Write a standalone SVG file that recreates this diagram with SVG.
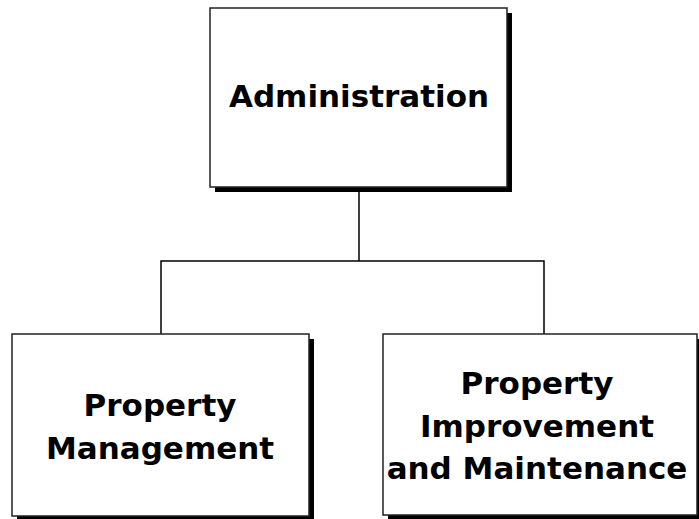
<svg xmlns="http://www.w3.org/2000/svg" width="699" height="519" viewBox="0 0 699 519">
<style>
.box{fill:#fff;stroke:#222;stroke-width:1.5}
.sh{fill:#000}
.t{font-family:"DejaVu Sans",Verdana,sans-serif;font-weight:bold;font-size:31px;fill:#000;text-anchor:middle}
.c{fill:none;stroke:#000;stroke-width:1.5}
</style>
<rect width="699" height="519" fill="#fff"/>
<g id="connectors">
<path class="c" d="M359 187V261M161 334V261H544V334"/>
</g>
<g id="admin">
<rect class="sh" x="215" y="13" width="297" height="179"/>
<rect class="box" x="210" y="8" width="297" height="179"/>
<text class="t" x="359" y="107">Administration</text>
</g>
<g id="pm">
<rect class="sh" x="17" y="339" width="297" height="182"/>
<rect class="box" x="12" y="334" width="297" height="182"/>
<text class="t" x="160" y="416">Property</text>
<text class="t" x="160" y="459">Management</text>
</g>
<g id="pim">
<rect class="sh" x="388" y="339" width="314" height="182"/>
<rect class="box" x="383" y="334" width="314" height="181"/>
<text class="t" x="537" y="394">Property</text>
<text class="t" x="537" y="437">Improvement</text>
<text class="t" x="537" y="479">and Maintenance</text>
</g>
</svg>
